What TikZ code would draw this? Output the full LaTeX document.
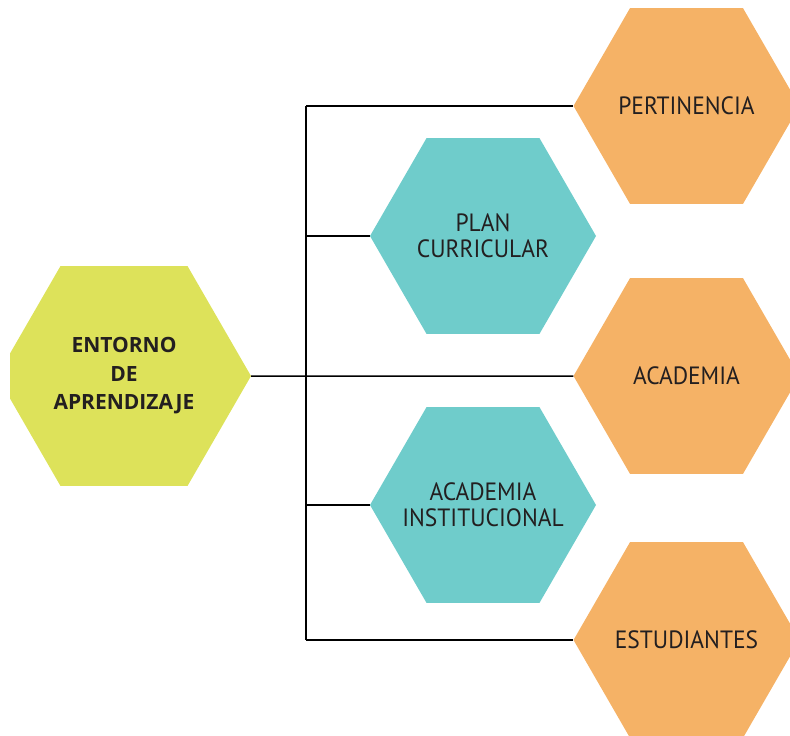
\documentclass[tikz,border=0pt]{standalone}
\usepackage{tikz}
\usepackage{fontspec}
\setmainfont{PT Sans}[FakeStretch=0.94]
\newfontfamily\negrita{Open Sans}
\usetikzlibrary{shapes,arrows}
\definecolor{verde}{RGB}{221,226,90}
\definecolor{naranja}{RGB}{245,178,102}
\definecolor{turquesa}{RGB}{111,204,203}
\definecolor{texto}{RGB}{35,31,32}
\tikzset{
	hexa/.style={regular polygon, regular polygon sides=6, inner sep=-25pt, minimum size=226pt, align=center, text=texto, font=\fontsize{25}{26}\selectfont},
	linea/.style={line width=1.5pt, black}
}

\begin{document}
\begin{tikzpicture}[x=1pt,y=-1pt]
				\useasboundingbox (0,0) rectangle (790,736);
				\clip (10,0) rectangle (790,736);
				\node[hexa, fill=verde, minimum size=254pt, font=\negrita\bfseries\fontsize{21}{28.5}\selectfont] (ent) at (124,376) {ENTORNO\\DE\\APRENDIZAJE};
				\node[hexa, fill=naranja] (per) at (686.5,106) {PERTINENCIA};
				\node[hexa, fill=turquesa] (plan) at (483,236) {PLAN\\CURRICULAR};
				\node[hexa, fill=naranja] (aca) at (686.5,376) {ACADEMIA};
				\node[hexa, fill=turquesa] (inst) at (483,505) {ACADEMIA\\INSTITUCIONAL};
				\node[hexa, fill=naranja] (est) at (686.5,640) {ESTUDIANTES};
				\coordinate (bus) at (306,376);
				\draw[linea] (bus |- per.west) -- (bus |- est.west);
				\draw[linea] (ent.east) -- (aca.west);
				\foreach \n in {per,plan,inst,est}
					\draw[linea] (bus |- \n.west) -- (\n.west);
\end{tikzpicture}
\end{document}
